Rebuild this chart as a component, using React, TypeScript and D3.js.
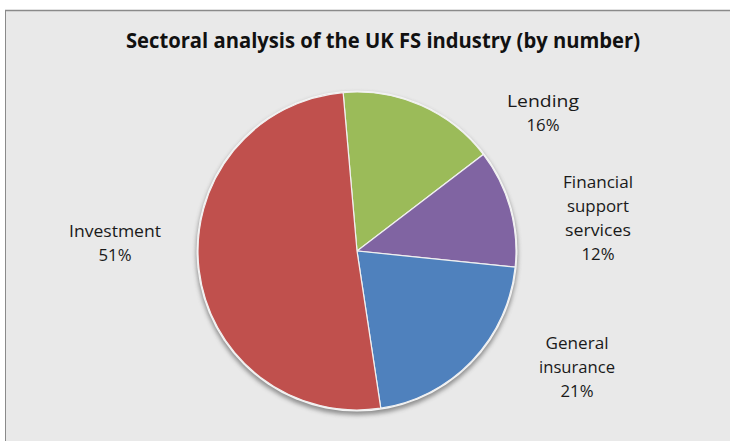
import React from "react";
import * as d3 from "d3";

const categories = ["Lending", "Financial support services", "General insurance", "Investment"];
const values = [16, 12, 21, 51];
const colors = ["#9BBB59", "#8064A2", "#4F81BD", "#C0504D"];
const labelLines = [["Lending", "16%"], ["Financial", "support", "services", "12%"], ["General", "insurance", "21%"], ["Investment", "51%"]];
const labelPos = [
  { x: 543, y: 107 },
  { x: 598, y: 188 },
  { x: 577, y: 349 },
  { x: 115, y: 237 },
];
const lineWidths: Record<string, number> = {
  Lending: 72, Financial: 70, support: 62, services: 66, General: 63, insurance: 76, Investment: 92,
  "16%": 33, "12%": 33, "21%": 33, "51%": 33,
};

export default function App() {
  const W = 730, H = 441;
  const cx = 357, cy = 251, r = 159;
  const offset = (-5 * Math.PI) / 180;
  const pie = d3.pie<number>().sort(null).value((d) => d).startAngle(offset).endAngle(offset + 2 * Math.PI);
  const arcs = pie(values);
  const arc = d3.arc<d3.PieArcDatum<number>>().innerRadius(0).outerRadius(r);
  const font = "'Open Sans', 'DejaVu Sans', sans-serif";
  return (
    <svg width={W} height={H} style={{ position: "absolute", left: 0, top: 0, background: "#fff" }}>
      <defs>
        <filter id="sh" x="-20%" y="-20%" width="140%" height="140%">
          <feGaussianBlur stdDeviation="2" />
        </filter>
      </defs>
      <rect x={5} y={10} width={W - 5} height={H - 10} fill="#e9e9e9" />
      <line x1={5} y1={10.5} x2={W} y2={10.5} stroke="#8a8a8a" strokeWidth={1.5} />
      <line x1={5.5} y1={10} x2={5.5} y2={H} stroke="#8a8a8a" strokeWidth={1} />
      <text x={383} y={48} textAnchor="middle" fontFamily={font} fontWeight="bold" fontSize={21}
        textLength={514} lengthAdjust="spacingAndGlyphs" fill="#111">
        Sectoral analysis of the UK FS industry (by number)
      </text>
      <g transform={`translate(${cx},${cy})`}>
        <circle cx={0} cy={3} r={r + 2} fill="#7a7a7a" filter="url(#sh)" opacity={0.8} />
        <circle cx={0} cy={0} r={r + 1.5} fill="#f4f4f4" />
        {arcs.map((a, i) => (
          <path key={categories[i]} d={arc(a) || ""} fill={colors[i]} stroke="#f0f0f0" strokeWidth={1.2} />
        ))}
      </g>
      {labelLines.map((lines, i) => (
        <g key={categories[i]}>
          {lines.map((t, j) => (
            <text key={j} x={labelPos[i].x} y={labelPos[i].y + j * 24} textAnchor="middle" fontFamily={font}
              fontSize={17} fill="#1a1a1a"
              {...(lineWidths[t] ? { textLength: lineWidths[t], lengthAdjust: "spacingAndGlyphs" } : {})}>
              {t}
            </text>
          ))}
        </g>
      ))}
    </svg>
  );
}
